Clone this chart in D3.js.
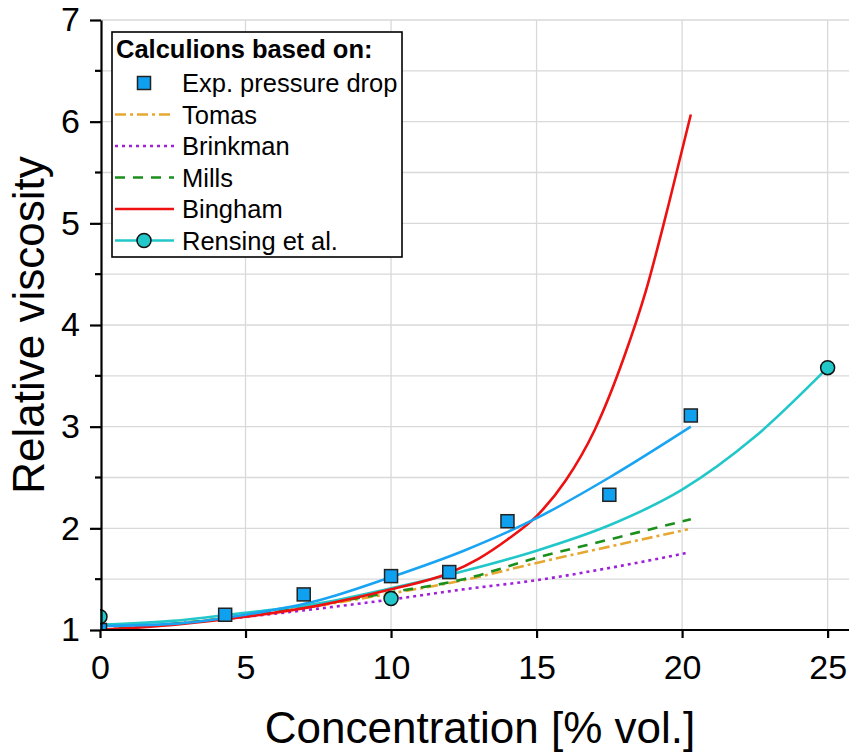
<!DOCTYPE html>
<html>
<head>
<meta charset="utf-8">
<script src="https://cdn.jsdelivr.net/npm/d3@7"></script>
<style>
  body { margin: 0; background: #fff; }
  svg { display: block; font-family: "Liberation Sans", Arial, sans-serif; }
</style>
</head>
<body>
<div id="chart"></div>
<script>
// measured points: exp. pressure drop (squares)
const expX = [0, 4.3, 7, 10, 12, 14, 17.5, 20.3];
const expY = [1.0, 1.15, 1.35, 1.53, 1.57, 2.07, 2.33, 3.11];

// Rensing et al. points (circles)
const rensX = [0, 10, 25];
const rensY = [1.13, 1.31, 3.58];

// fitted curve through the exp. points
const fitX = [0, 2.5, 5, 7.5, 10, 12.5, 15, 17.5, 20.3];
const fitY = [1.04, 1.06, 1.15, 1.29, 1.52, 1.78, 2.10, 2.50, 3.00];

// model curves
const tomasX = [0, 2.5, 5, 7.5, 10, 12.5, 15, 17.5, 20.2];
const tomasY = [1.0, 1.06, 1.14, 1.24, 1.36, 1.49, 1.66, 1.82, 1.99];

const brinkX = [0, 2.5, 5, 7.5, 10, 12.5, 15, 17.5, 20.2];
const brinkY = [1.0, 1.06, 1.13, 1.21, 1.30, 1.40, 1.49, 1.61, 1.76];

const millsX = [0, 2.5, 5, 7.5, 10, 12.5, 15, 17.5, 20.3];
const millsY = [1.0, 1.06, 1.14, 1.25, 1.37, 1.50, 1.71, 1.89, 2.09];

const binghamX = [0, 2.5, 5, 7.5, 10, 12, 13, 14, 15, 16, 17, 18, 18.75, 19.55, 20.3];
const binghamY = [1.0, 1.05, 1.13, 1.24, 1.40, 1.56, 1.70, 1.89, 2.12, 2.47, 2.97, 3.68, 4.33, 5.20, 6.07];

const rensCurveX = [0, 2.5, 5, 7.5, 10, 12.5, 15, 17.5, 20, 22.5, 25];
const rensCurveY = [1.05, 1.09, 1.17, 1.26, 1.41, 1.58, 1.78, 2.03, 2.38, 2.90, 3.58];

// axis ticks
const xTicks = [0, 5, 10, 15, 20, 25];
const yTicks = [1, 2, 3, 4, 5, 6, 7];
const yMinor = [1.5, 2.5, 3.5, 4.5, 5.5, 6.5];

const legendTitle = "Calculions based on:";
const legendNames = ["Exp. pressure drop", "Tomas", "Brinkman", "Mills", "Bingham", "Rensing et al."];

const W = 849, H = 755;
const pLeft = 100, pRight = 848, pTop = 20, pBottom = 630;

let svg = d3.select("#chart").append("svg")
  .attr("width", W).attr("height", H);

let xScale = d3.scaleLinear().domain([0, 25.7]).range([pLeft, pRight]);
let yScale = d3.scaleLinear().domain([1, 7]).range([pBottom, pTop]);

//gridlines
let grid = svg.append("g").attr("stroke", "#d9d9d9").attr("stroke-width", 1.3);
grid.selectAll(".hg").data(yMinor.concat(yTicks.slice(1)))
  .enter().append("line")
  .attr("x1", pLeft).attr("x2", W)
  .attr("y1", d => yScale(d)).attr("y2", d => yScale(d));
grid.selectAll(".vg").data(xTicks.slice(1))
  .enter().append("line")
  .attr("x1", d => xScale(d)).attr("x2", d => xScale(d))
  .attr("y1", pTop).attr("y2", pBottom);

// clip to the plot area
svg.append("clipPath").attr("id", "plotclip")
  .append("rect").attr("x", pLeft).attr("y", pTop)
  .attr("width", W - pLeft).attr("height", pBottom - pTop);

let plot = svg.append("g").attr("clip-path", "url(#plotclip)");

function makeLine(xs, ys) {
  return d3.line()
    .x(d => xScale(d[0]))
    .y(d => yScale(d[1]))
    .curve(d3.curveMonotoneX)(d3.zip(xs, ys));
}

const curves = [
  { xs: brinkX, ys: brinkY, color: "#a020d8", dash: "3,4" },
  { xs: tomasX, ys: tomasY, color: "#e6a832", dash: "11,4,3,4" },
  { xs: millsX, ys: millsY, color: "#1b8f1b", dash: "10,8" },
  { xs: rensCurveX, ys: rensCurveY, color: "#22c7c9", dash: null },
  { xs: binghamX, ys: binghamY, color: "#ee1111", dash: null },
  { xs: fitX, ys: fitY, color: "#18a4f2", dash: null }
];

curves.forEach(c => {
  plot.append("path")
    .attr("d", makeLine(c.xs, c.ys))
    .attr("fill", "none")
    .attr("stroke", c.color)
    .attr("stroke-width", 2.6)
    .attr("stroke-dasharray", c.dash);
});

// markers on top
const sq = 13;
plot.selectAll(".sq").data(d3.zip(expX, expY))
  .enter().append("rect")
  .attr("x", d => xScale(d[0]) - sq / 2)
  .attr("y", d => yScale(d[1]) - sq / 2)
  .attr("width", sq).attr("height", sq)
  .attr("fill", "#10a0f0").attr("stroke", "#222").attr("stroke-width", 1.5);

plot.selectAll(".ci").data(d3.zip(rensX, rensY))
  .enter().append("circle")
  .attr("cx", d => xScale(d[0]))
  .attr("cy", d => yScale(d[1]))
  .attr("r", 7)
  .attr("fill", "#22c7c9").attr("stroke", "#111").attr("stroke-width", 1.5);

//X-AXIS
let xAxis = d3.axisBottom(xScale).tickValues(xTicks).tickFormat(d3.format("d"))
  .tickSize(8).tickPadding(17).tickSizeOuter(0);
let gx = svg.append("g").attr("transform", "translate(0," + pBottom + ")").call(xAxis);
gx.select(".domain").attr("d", "M" + pLeft + ",0H" + W);
gx.selectAll("line, path").attr("stroke", "#000").attr("stroke-width", 2.2);
gx.selectAll("text").attr("font-size", 34).attr("fill", "#000");

//Y-AXIS
let yAxis = d3.axisLeft(yScale).tickValues(yTicks).tickFormat(d3.format("d"))
  .tickSize(11).tickPadding(10).tickSizeOuter(0);
let gy = svg.append("g").attr("transform", "translate(" + (pLeft + 1) + ",0)").call(yAxis);
gy.selectAll("line, path").attr("stroke", "#000").attr("stroke-width", 2.2);
gy.selectAll("text").attr("font-size", 34).attr("fill", "#000");
gy.selectAll(".minor").data(yMinor).enter().append("line")
  .attr("x1", -6).attr("x2", 0)
  .attr("y1", d => yScale(d)).attr("y2", d => yScale(d))
  .attr("stroke", "#000").attr("stroke-width", 2.2);

// axis titles
svg.append("text")
  .attr("x", 480).attr("y", 743)
  .attr("text-anchor", "middle").attr("font-size", 44)
  .text("Concentration [% vol.]");

svg.append("text")
  .attr("transform", "translate(44," + ((pTop + pBottom) / 2) + ") rotate(-90)")
  .attr("text-anchor", "middle").attr("font-size", 44)
  .text("Relative viscosity");

//legend
let lg = svg.append("g");
lg.append("rect")
  .attr("x", 112).attr("y", 32).attr("width", 290).attr("height", 225)
  .attr("fill", "#fff").attr("stroke", "#000").attr("stroke-width", 1.6);
lg.append("text").attr("x", 116).attr("y", 58)
  .attr("font-size", 25.5).attr("font-weight", "bold").text(legendTitle);

const legendStyles = [
  { color: "#10a0f0", dash: null, marker: "square", line: false },
  { color: "#e6a832", dash: "11,4,3,4", marker: null, line: true },
  { color: "#a020d8", dash: "3,4", marker: null, line: true },
  { color: "#1b8f1b", dash: "10,8", marker: null, line: true },
  { color: "#ee1111", dash: null, marker: null, line: true },
  { color: "#22c7c9", dash: null, marker: "circle", line: true }
];

legendNames.forEach((name, i) => {
  let cy = 83 + i * 31.5;
  let s = legendStyles[i];
  if (s.line) {
    lg.append("line").attr("x1", 115).attr("x2", 174)
      .attr("y1", cy).attr("y2", cy)
      .attr("stroke", s.color).attr("stroke-width", 2.6)
      .attr("stroke-dasharray", s.dash);
  }
  if (s.marker == "square") {
    lg.append("rect").attr("x", 144 - sq / 2).attr("y", cy - sq / 2)
      .attr("width", sq).attr("height", sq)
      .attr("fill", s.color).attr("stroke", "#222").attr("stroke-width", 1.5);
  }
  if (s.marker == "circle") {
    lg.append("circle").attr("cx", 144).attr("cy", cy).attr("r", 7)
      .attr("fill", s.color).attr("stroke", "#111").attr("stroke-width", 1.5);
  }
  lg.append("text").attr("x", 182).attr("y", cy + 9)
    .attr("font-size", 25.5).text(name);
});
</script>
</body>
</html>
